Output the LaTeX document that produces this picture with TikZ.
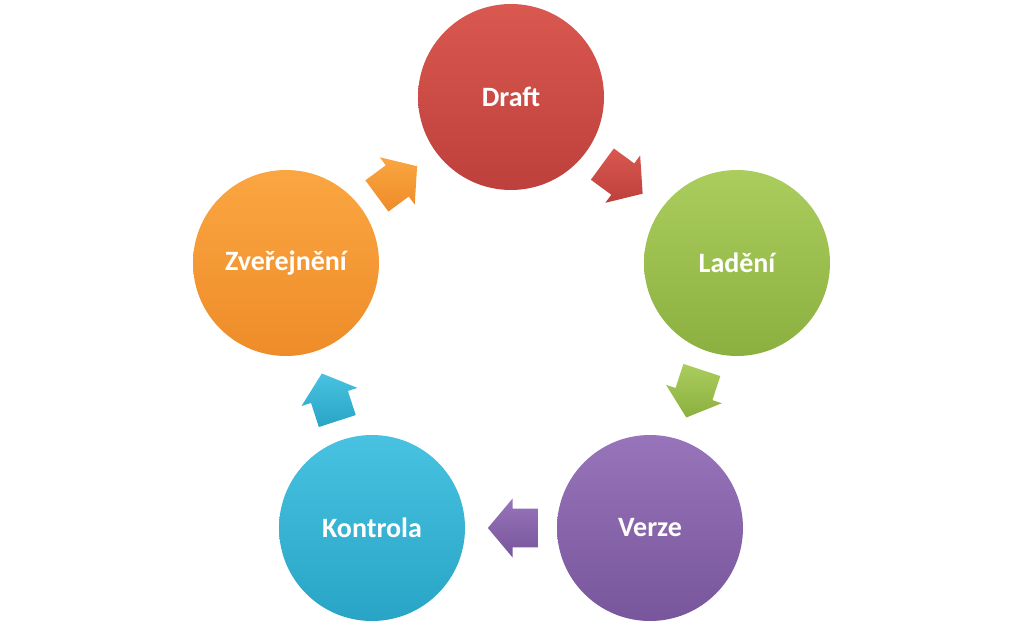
\documentclass[tikz,border=0pt]{standalone}
\usepackage{fontspec}
\setmainfont{Carlito}
\usepackage{tikz}
\usetikzlibrary{shapes.arrows, calc}
\definecolor{redlight}{RGB}{217, 88, 80}
\definecolor{reddark}{RGB}{190, 64, 60}
\definecolor{greenlight}{RGB}{170, 205, 94}
\definecolor{greendark}{RGB}{140, 176, 64}
\definecolor{purplelight}{RGB}{152, 116, 186}
\definecolor{purpledark}{RGB}{120, 86, 156}
\definecolor{bluelight}{RGB}{72, 194, 224}
\definecolor{bluedark}{RGB}{40, 164, 198}
\definecolor{orangelight}{RGB}{250, 166, 66}
\definecolor{orangedark}{RGB}{238, 140, 40}

\begin{document}
\begin{tikzpicture}[x=0.5pt, y=-0.5pt,
    stage/.style={circle, minimum size=93pt, inner sep=0pt, text=white,
                  font=\bfseries\fontsize{14}{16}\selectfont},
    turn/.style={single arrow, single arrow head extend=5pt, single arrow tip angle=100,
                 minimum height=25pt, inner xsep=0pt, inner ysep=9.5pt}]
  \useasboundingbox (0, 0) rectangle (1023, 626);

  \node[stage, top color=redlight, bottom color=reddark] (draft) at (511, 97) {Draft};
  \node[stage, top color=greenlight, bottom color=greendark] (ladeni) at (737, 263) {Ladění};
  \node[stage, top color=purplelight, bottom color=purpledark] (verze) at (650, 528) {Verze};
  \node[stage, top color=bluelight, bottom color=bluedark] (kontrola) at (372, 528) {Kontrola};
  \node[stage, top color=orangelight, bottom color=orangedark] (zverejneni) at (286, 263) {Zveřejnění};

  \foreach \a/\b/\c in {draft/ladeni/red, ladeni/verze/green, verze/kontrola/purple,
                        kontrola/zverejneni/blue, zverejneni/draft/orange}
    \path let \p1 = ($(\b)-(\a)$), \n1 = {atan2(\y1, \x1)} in
      node[turn, top color=\c light, bottom color=\c dark, rotate=\n1, xshift=-5pt] (\a-\b)
        at ($(\a)!0.5!(\b)$) {};
\end{tikzpicture}
\end{document}
